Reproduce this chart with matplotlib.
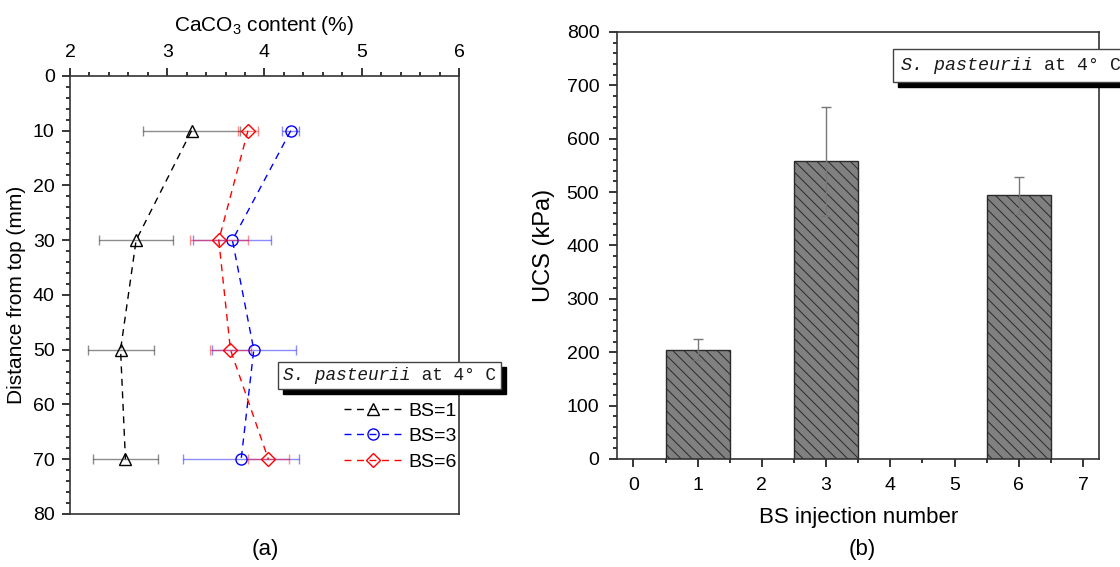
import matplotlib.pyplot as plt
import matplotlib.transforms as mtransforms
from matplotlib.ticker import MultipleLocator

plt.rcParams['font.family'] = ['Liberation Sans', 'DejaVu Sans']
plt.rcParams['hatch.linewidth'] = 0.7
plt.rcParams['mathtext.default'] = 'regular'

# (a) CaCO3 content vs. depth
depth = [10, 30, 50, 70]
caco3_bs1 = [3.25, 2.68, 2.52, 2.57]
err_bs1 = [0.50, 0.38, 0.34, 0.33]
caco3_bs3 = [4.27, 3.67, 3.89, 3.76]
err_bs3 = [0.09, 0.40, 0.43, 0.60]
caco3_bs6 = [3.83, 3.53, 3.65, 4.04]
err_bs6 = [0.10, 0.30, 0.21, 0.21]

# (b) UCS vs. BS injection number
bs_number = [1, 3, 6]
ucs = [205, 558, 494]
ucs_err = [20, 102, 35]

fig = plt.figure(figsize=(11.2, 5.67), dpi=100)
ax1 = fig.add_axes([0.0625, 0.0935, 0.3473, 0.7725])
ax2 = fig.add_axes([0.5512, 0.1905, 0.4302, 0.7531])

# ---- panel (a)
series = [
    (caco3_bs1, err_bs1, 'black', '^', 'BS=1'),
    (caco3_bs3, err_bs3, 'blue', 'o', 'BS=3'),
    (caco3_bs6, err_bs6, 'red', 'D', 'BS=6'),
]
for vals, err, col, mk, lab in series:
    ax1.errorbar(vals, depth, xerr=err, fmt='none', ecolor=col, alpha=0.45,
                 elinewidth=1, capsize=3.5, capthick=1)
    ax1.plot(vals, depth, ls='--', color=col, lw=1, marker=mk,
             ms=8 if mk != 'D' else 7, mfc='none', mec=col, mew=1,
             label=lab, dashes=(5, 4))

ax1.set_xlim(2, 6)
ax1.set_ylim(80, 0)
ax1.xaxis.tick_top()
ax1.xaxis.set_label_position('top')
ax1.xaxis.set_major_locator(MultipleLocator(1))
ax1.xaxis.set_minor_locator(MultipleLocator(0.2))
ax1.yaxis.set_major_locator(MultipleLocator(10))
ax1.yaxis.set_minor_locator(MultipleLocator(2))
ax1.tick_params(which='both', direction='out', labelsize=14, width=1.1,
                right=False, bottom=False)
ax1.tick_params(which='major', length=6, pad=5)
ax1.tick_params(which='minor', length=3)
ax1.set_xlabel('CaCO$_3$ content (%)', fontsize=15, labelpad=9)
ax1.set_ylabel('Distance from top (mm)', fontsize=15, labelpad=5)
for s in ax1.spines.values():
    s.set_linewidth(1.2)
    s.set_color('#333333')

leg = ax1.legend(loc='upper left', bbox_to_anchor=(0.66, 0.295), frameon=False,
                 fontsize=14, handlelength=3.0, handletextpad=0.3,
                 labelspacing=0.4, numpoints=1)


def label_box(x, y, fs, pad):
    # text box with drop shadow, italic species name in a monospace serif face
    full = 'S. pasteurii at 4° C'
    mono = 'Liberation Mono'
    sh = mtransforms.offset_copy(fig.transFigure, fig=fig, x=3.5, y=-3.5, units='points')
    fig.text(x, y, full, fontsize=fs, family=mono, color=(0, 0, 0, 0), transform=sh,
             bbox=dict(boxstyle=f'square,pad={pad}', fc='black', ec='black', lw=1), zorder=20)
    fig.text(x, y, full, fontsize=fs, family=mono, color=(0, 0, 0, 0),
             bbox=dict(boxstyle=f'square,pad={pad}', fc='white', ec='#444444', lw=1), zorder=21)
    fig.text(x, y, 'S. pasteurii', fontsize=fs, family=mono, style='italic',
             color='#1a1a1a', zorder=22)
    off = mtransforms.offset_copy(fig.transFigure, fig=fig, x=12 * 0.6 * fs, y=0, units='points')
    fig.text(x, y, ' at 4° C', fontsize=fs, family=mono, color='#1a1a1a',
             transform=off, zorder=22)


label_box(283 / 1120, 1 - 380 / 567, 12.8, 0.3)
label_box(901 / 1120, 1 - 70 / 567, 13.2, 0.45)

# ---- panel (b)
ax2.bar(bs_number, ucs, width=1.0, color='#808080', edgecolor='#2a2a2a',
        hatch='\\\\\\', linewidth=1, zorder=2)
ax2.errorbar(bs_number, ucs, yerr=ucs_err, fmt='none', ecolor='#777777',
             elinewidth=1, capsize=3.5, capthick=1, zorder=3)
ax2.set_xlim(-0.25, 7.25)
ax2.set_ylim(0, 800)
ax2.xaxis.set_major_locator(MultipleLocator(1))
ax2.xaxis.set_minor_locator(MultipleLocator(0.5))
ax2.yaxis.set_major_locator(MultipleLocator(100))
ax2.yaxis.set_minor_locator(MultipleLocator(20))
ax2.tick_params(which='both', direction='out', labelsize=14, width=1.1,
                top=False, right=False)
ax2.tick_params(which='major', length=6, pad=7)
ax2.tick_params(which='minor', length=3)
ax2.set_xlabel('BS injection number', fontsize=16, labelpad=9)
ax2.set_ylabel('UCS (kPa)', fontsize=17, labelpad=8)
for s in ax2.spines.values():
    s.set_linewidth(1.2)
    s.set_color('#333333')

fig.text(265 / 1120, 1 - 549 / 567, '(a)', fontsize=16, ha='center', va='center')
fig.text(862 / 1120, 1 - 549 / 567, '(b)', fontsize=16, ha='center', va='center')

fig.savefig('out.png', dpi=100, facecolor='white')
